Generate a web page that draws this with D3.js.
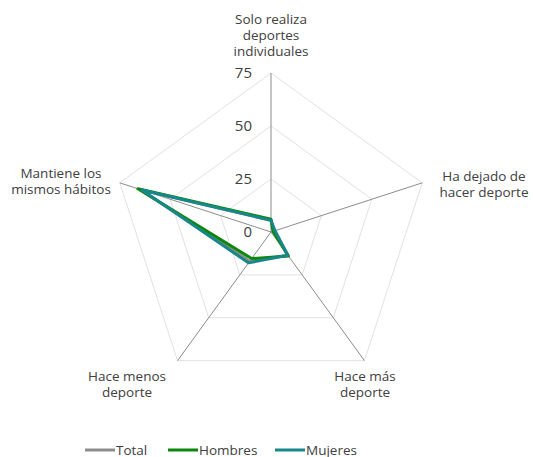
<!DOCTYPE html>
<html>
<head>
<meta charset="utf-8">
<script src="https://cdn.jsdelivr.net/npm/d3@7"></script>
<style>
  body { margin: 0; background: #fff; }
  svg text { font-family: "Open Sans", sans-serif; fill: #404040; }
</style>
</head>
<body>
<svg id="chart"></svg>
<script>
// Data
const categories = [
    ["Solo realiza", "deportes", "individuales"],
    ["Ha dejado de", "hacer deporte"],
    ["Hace más", "deporte"],
    ["Hace menos", "deporte"],
    ["Mantiene los", "mismos hábitos"]
];
const totalValues = [5.5, 1.5, 13.5, 17, 65];
const hombresValues = [6, 1, 14, 15.5, 66];
const mujeresValues = [5.5, 2, 13.5, 18, 64];
const tickValues = [0, 25, 50, 75];
const seriesNames = ["Total", "Hombres", "Mujeres"];
const seriesColors = ["#8c8c8c", "#0c870c", "#18878a"];

const width = 533, height = 457;
const cx = 271, cy = 232;

const svg = d3.select("#chart")
    .attr("width", width)
    .attr("height", height);

const g = svg.append("g")
    .attr("transform", `translate(${cx},${cy})`);

// radius scale
const r = d3.scaleLinear()
    .domain([0, 75])
    .range([0, 159]);

const angle = d3.scaleLinear()
    .domain([0, categories.length])
    .range([0, 2 * Math.PI]);

const pt = (i, v) => [Math.sin(angle(i)) * r(v), -Math.cos(angle(i)) * r(v)];

// grid pentagons
tickValues.filter(t => t > 0).forEach(t => {
    g.append("path")
        .attr("d", d3.line().curve(d3.curveLinearClosed)(categories.map((c, i) => pt(i, t))))
        .attr("fill", "none")
        .attr("stroke", "#d9d9d9")
        .attr("stroke-width", 0.8);
});

// spokes
g.selectAll(".spoke")
    .data(categories)
    .enter()
    .append("line")
    .attr("class", "spoke")
    .attr("x1", 0).attr("y1", 0)
    .attr("x2", (d, i) => pt(i, 75)[0])
    .attr("y2", (d, i) => pt(i, 75)[1])
    .attr("stroke", "#8c8c8c")
    .attr("stroke-width", 1);

// tick labels
g.selectAll(".tick-label")
    .data(tickValues)
    .enter()
    .append("text")
    .attr("class", "tick-label")
    .attr("x", -19)
    .attr("y", d => -r(d) + 5)
    .attr("text-anchor", "end")
    .style("font-size", "15px")
    .text(d => d);

// category labels, one text per line
const labelPos = [
    { x: 0, y: -208 },
    { x: 213, y: -51 },
    { x: 94, y: 149 },
    { x: -144, y: 149 },
    { x: -210, y: -54 }
];

categories.forEach((lines, i) => {
    lines.forEach((line, j) => {
        g.append("text")
            .attr("x", labelPos[i].x)
            .attr("y", labelPos[i].y + j * 16)
            .attr("text-anchor", "middle")
            .style("font-size", "13.5px")
            .text(line);
    });
});

// series lines
const radial = d3.line().curve(d3.curveLinearClosed);
[totalValues, hombresValues, mujeresValues].forEach((vals, s) => {
    g.append("path")
        .attr("d", radial(vals.map((v, i) => pt(i, v))))
        .attr("fill", "none")
        .attr("stroke", seriesColors[s])
        .attr("stroke-width", 3)
        .attr("stroke-linejoin", "round");
});

// legend
const legendX = [85, 168, 275];
const legend = svg.selectAll(".legend")
    .data(seriesNames)
    .enter()
    .append("g")
    .attr("class", "legend")
    .attr("transform", (d, i) => `translate(${legendX[i]},450)`);

legend.append("line")
    .attr("x1", 0).attr("x2", 30)
    .attr("y1", 0).attr("y2", 0)
    .attr("stroke", (d, i) => seriesColors[i])
    .attr("stroke-width", 3);

legend.append("text")
    .attr("x", 31)
    .attr("y", 4.5)
    .style("font-size", "13.5px")
    .text(d => d);
</script>
</body>
</html>
